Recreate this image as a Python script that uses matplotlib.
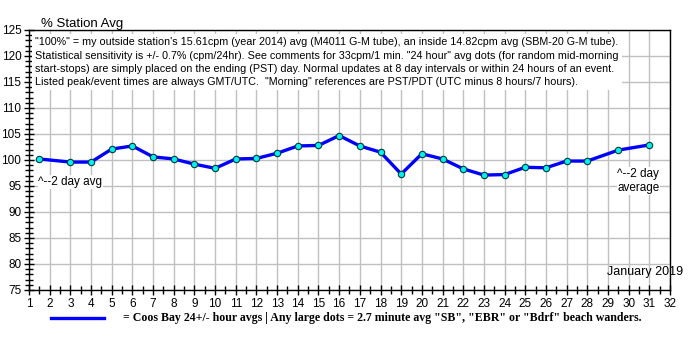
import matplotlib
matplotlib.use("Agg")
import matplotlib.pyplot as plt
from matplotlib.lines import Line2D
import numpy as np

days = [1.5, 3, 4, 5, 6, 7, 8, 9, 10, 11, 12, 13, 14, 15, 16,
        17, 18, 19, 20, 21, 22, 23, 24, 25, 26, 27, 28, 29.5, 31]
values = [100.2, 99.6, 99.6, 102.1, 102.7, 100.6, 100.2, 99.2, 98.4, 100.2, 100.3, 101.3, 102.7, 102.8, 104.7,
          102.7, 101.5, 97.3, 101.2, 100.2, 98.3, 97.1, 97.2, 98.6, 98.5, 99.8, 99.8, 101.9, 102.9]
x_ticks = list(range(1, 33))
y_ticks = list(range(75, 126, 5))

note = ('"100%" = my outside station\'s 15.61cpm (year 2014) avg (M4011 G-M tube), an inside 14.82cpm avg (SBM-20 G-M tube).\n'
        'Statistical sensitivity is +/- 0.7% (cpm/24hr). See comments for 33cpm/1 min. "24 hour" avg dots (for random mid-morning\n'
        'start-stops) are simply placed on the ending (PST) day. Normal updates at 8 day intervals or within 24 hours of an event.\n'
        'Listed peak/event times are always GMT/UTC.  "Morning" references are PST/PDT (UTC minus 8 hours/7 hours).')
legend_text = '= Coos Bay 24+/- hour avgs | Any large dots = 2.7 minute avg "SB", "EBR" or "Bdrf" beach wanders.'

plt.rcParams['font.family'] = ['Liberation Sans', 'DejaVu Sans']

fig = plt.figure(figsize=(7, 3.5), dpi=100)
ax = fig.add_axes([29 / 700, 1 - 290 / 350, (670 - 29) / 700, 260 / 350])

ax.set_xlim(1, 32)
ax.set_ylim(75, 125)
ax.set_xticks(x_ticks)
ax.set_yticks(y_ticks)
ax.set_xticks(np.arange(1, 32.01, 0.5), minor=True)
ax.set_yticks(np.arange(75, 125.01, 1), minor=True)
ax.tick_params(axis='both', which='both', direction='inout', length=7, width=1, labelsize=8.5, pad=2, color='black')
ax.tick_params(axis='both', which='minor', length=6)
ax.grid(True, which='major', color='#c0c0c0', linewidth=1)
ax.set_axisbelow(True)
for s in ax.spines.values():
    s.set_color('black')
    s.set_linewidth(1)

ax.plot(days, values, color='#0000ff', linewidth=2.4, zorder=3,
        marker='o', markersize=4.6, markerfacecolor='#00f0f0', markeredgecolor='#003c3c', markeredgewidth=0.8)

ax.text(1.3, 123.6, note, fontsize=7.75, va='top', ha='left', linespacing=1.42,
        bbox=dict(facecolor='white', edgecolor='none', pad=2), zorder=2)
ax.text(1.45, 95.8, '^--2 day avg', fontsize=8.5, va='center', ha='left',
        bbox=dict(facecolor='white', edgecolor='none', pad=0.5), zorder=2)
ax.text(29.45, 96.0, '^--2 day\naverage', fontsize=8.5, va='center', ha='left', linespacing=1.25,
        bbox=dict(facecolor='white', edgecolor='none', pad=0.5), zorder=2)
ax.text(28.95, 78.4, 'January 2019', fontsize=9, va='center', ha='left', zorder=1)

fig.text(41 / 700, 1 - 24 / 350, '% Station Avg', fontsize=9.5, va='center', ha='left')

fig.add_artist(Line2D([51 / 700, 104 / 700], [1 - 318 / 350, 1 - 318 / 350], color='#0000ff', linewidth=2.4))
fig.text(123 / 700, 1 - 318 / 350, legend_text, fontsize=8.6, fontweight='bold',
         family=['Liberation Serif', 'DejaVu Serif'], va='center', ha='left')

fig.savefig('out.png', dpi=100)
